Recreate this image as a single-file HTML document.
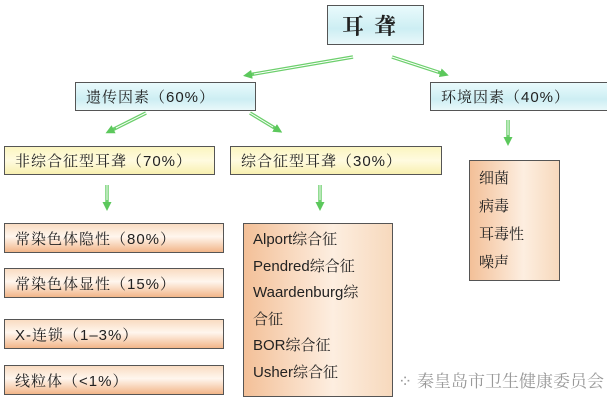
<!DOCTYPE html>
<html><head><meta charset="utf-8"><style>
body{margin:0;width:607px;height:403px;background:#fff;position:relative;overflow:hidden;font-family:"Liberation Sans","Noto Serif CJK SC","Noto Sans CJK SC",sans-serif;color:#222}
.b{position:absolute;box-sizing:border-box;border:1.5px solid #555;font-size:15px;display:flex;align-items:center;padding-left:10px;letter-spacing:1px}
.c{background:linear-gradient(to bottom,#e9fafc,#cdeef3 60%,#e9f8fa)}
.y{background:linear-gradient(to bottom,#fbf5c0,#fffbe0 50%,#f8f0b0)}
.o{background:linear-gradient(to bottom,#f9dcc2,#fff6ee 45%,#f2b689)}
.m{position:absolute;box-sizing:border-box;border:1.5px solid #555;background:linear-gradient(to right,#f3c098,#fdeee0 60%,#f7d9bd);font-size:15px;padding:6px 0 0 9px;line-height:26.5px}
</style></head><body>
<div class="b c" style="left:327px;top:5px;width:97px;height:40px;font-size:22px;padding-left:14px;letter-spacing:10px;font-weight:bold">耳聋</div>
<div class="b c" style="left:75px;top:82px;width:181px;height:29px">遗传因素（60%）</div>
<div class="b c" style="left:430px;top:82px;width:180px;height:29px">环境因素（40%）</div>
<div class="b y" style="left:4px;top:146px;width:211px;height:29px">非综合征型耳聋（70%）</div>
<div class="b y" style="left:230px;top:146px;width:212px;height:29px">综合征型耳聋（30%）</div>
<div class="b o" style="left:4px;top:223px;width:220px;height:30px">常染色体隐性（80%）</div>
<div class="b o" style="left:4px;top:268px;width:220px;height:30px">常染色体显性（15%）</div>
<div class="b o" style="left:4px;top:319px;width:220px;height:30px">X-连锁（1–3%）</div>
<div class="b o" style="left:4px;top:365px;width:220px;height:30px">线粒体（&lt;1%）</div>
<div class="m" style="left:469px;top:160px;width:91px;height:121px;padding-top:4px;line-height:28px">细菌<br>病毒<br>耳毒性<br>噪声</div>
<div class="m" style="left:243px;top:223px;width:150px;height:174px;padding-top:3px">Alport综合征<br>Pendred综合征<br>Waardenburg综<br>合征<br>BOR综合征<br>Usher综合征</div>
<div style="position:absolute;left:398px;top:367px;font-size:17px;color:#999;white-space:nowrap">⁘ 秦皇岛市卫生健康委员会</div>
<svg width="607" height="403" style="position:absolute;left:0;top:0">
<defs><marker id="a" markerUnits="userSpaceOnUse" markerWidth="9" markerHeight="9" refX="4" refY="4.5" orient="auto"><path d="M0,0L9,4.5L0,9z" fill="#5cc85c"/></marker></defs>
<g stroke="#6ccf6c" stroke-width="3.5" fill="none" marker-end="url(#a)">
<line x1="353" y1="57" x2="248" y2="75"/>
<line x1="392" y1="57" x2="444" y2="74"/>
<line x1="146" y1="113" x2="110" y2="131"/>
<line x1="250" y1="113" x2="278" y2="130"/>
<line x1="508" y1="120" x2="508" y2="141"/>
<line x1="107" y1="185" x2="107" y2="206"/>
<line x1="320" y1="185" x2="320" y2="206"/>
</g>
<g stroke="#fff" stroke-width="1" fill="none">
<line x1="353" y1="57" x2="254" y2="74"/>
<line x1="392" y1="57" x2="438" y2="72"/>
<line x1="146" y1="113" x2="116" y2="128"/>
<line x1="250" y1="113" x2="273" y2="127"/>
<line x1="508" y1="120" x2="508" y2="135"/>
<line x1="107" y1="185" x2="107" y2="200"/>
<line x1="320" y1="185" x2="320" y2="200"/>
</g>
</svg>
</body></html>
